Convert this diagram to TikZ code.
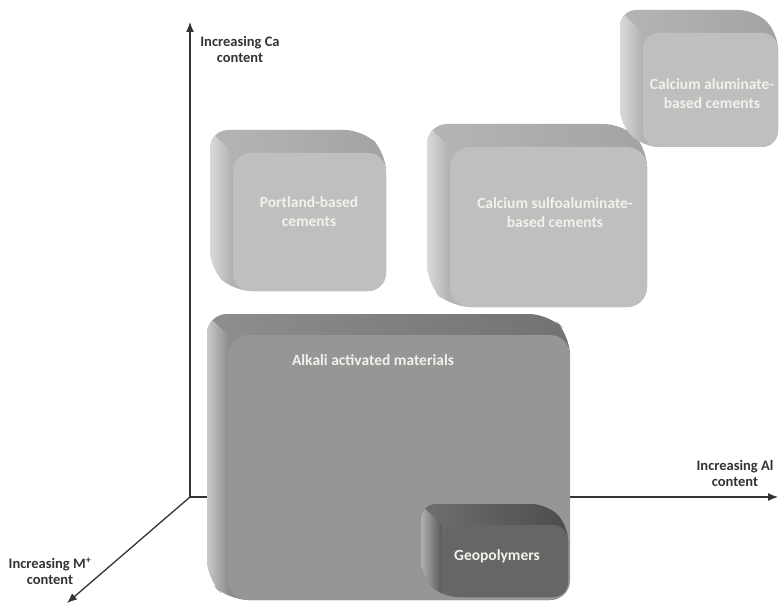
\documentclass[tikz,border=0pt]{standalone}
\usepackage{fontspec}
\setmainfont{Carlito}
\usetikzlibrary{arrows.meta}
\definecolor{axisgray}{HTML}{333333}
\definecolor{boxtext}{HTML}{F3F2EA}
\definecolor{lfront}{HTML}{BFBFBF}
\definecolor{ltop}{HTML}{A3A3A3}
\definecolor{lside}{HTML}{B0B0B0}
\definecolor{mfront}{HTML}{969696}
\definecolor{mtop}{HTML}{727272}
\definecolor{mside}{HTML}{8E8E8E}
\definecolor{dfront}{HTML}{666666}
\definecolor{dtop}{HTML}{4C4C4C}
\definecolor{dside}{HTML}{595959}
\newcommand{\cementcube}[9]{%
  % #1 x1, #2 y1, #3 x2, #4 y2 (front face), #5 depth, #6 front, #7 top, #8 side, #9 radius
  \begin{scope}
    \path[clip,rounded corners=#9] (#1-#5,#2-#5) -- (#3-#5,#2-#5) -- (#3,#2) -- (#3,#4) -- (#1,#4) -- (#1-#5,#4-#5) -- cycle;
    \shade[left color=#7!80!white, right color=#7] (#1-#5-2,#2-#5-2) rectangle (#3+2,#4+2);
    \shade[left color=#8!45!white, right color=#8] (#1-#5-1,#2-#5) -- (#1,#2) -- (#1,#4+1) -- (#1-#5-1,#4+1) -- cycle;
  \end{scope}
  \fill[#6, rounded corners=#9] (#1,#2) rectangle (#3,#4);
}
\tikzset{
  axis/.style={draw=axisgray, line width=1.3pt, -{Latex[length=10pt,width=8pt]}},
  axislabel/.style={text=axisgray, font=\fontsize{14.5}{16}\selectfont\bfseries, align=center},
  boxlabel/.style={text=boxtext, font=\fontsize{15.5}{19}\selectfont\bfseries, align=center}
}
\begin{document}
\begin{tikzpicture}[x=1pt,y=-1pt]
\useasboundingbox (0,0) rectangle (780,607);
% axes
\coordinate (O) at (190,497);
\coordinate (Ytip) at (190,22);
\coordinate (Xtip) at (778,497);
\coordinate (Ztip) at (67,603);
\draw[axis] (O) -- (Ytip);
\draw[axis] (O) -- (Xtip);
\draw[axis] (O) -- (Ztip);
\node[axislabel] (ylab) at (240,49) {Increasing Ca\\content};
\node[axislabel] (xlab) at (735,473) {Increasing Al\\content};
\node[axislabel] (zlab) at (50,571) {Increasing M\textsuperscript{+}\\content};
% boxes
\cementcube{233}{153}{386}{291}{23}{lfront}{ltop}{lside}{18}
\node[boxlabel] (portland) at (309,212) {Portland-based\\cements};
\cementcube{450}{147}{647}{307}{23}{lfront}{ltop}{lside}{20}
\node[boxlabel] (csa) at (555,213) {Calcium sulfoaluminate-\\based cements};
\cementcube{643}{33}{778}{147}{23}{lfront}{ltop}{lside}{16}
\node[boxlabel] (ca) at (712,94) {Calcium aluminate-\\based cements};
\cementcube{228}{335}{570}{600}{21}{mfront}{mtop}{mside}{20}
\node[boxlabel] (aam) at (373,360) {Alkali activated materials};
\cementcube{442}{525}{568}{597}{21}{dfront}{dtop}{dside}{15}
\node[boxlabel] (geo) at (497,556) {Geopolymers};
\end{tikzpicture}
\end{document}
